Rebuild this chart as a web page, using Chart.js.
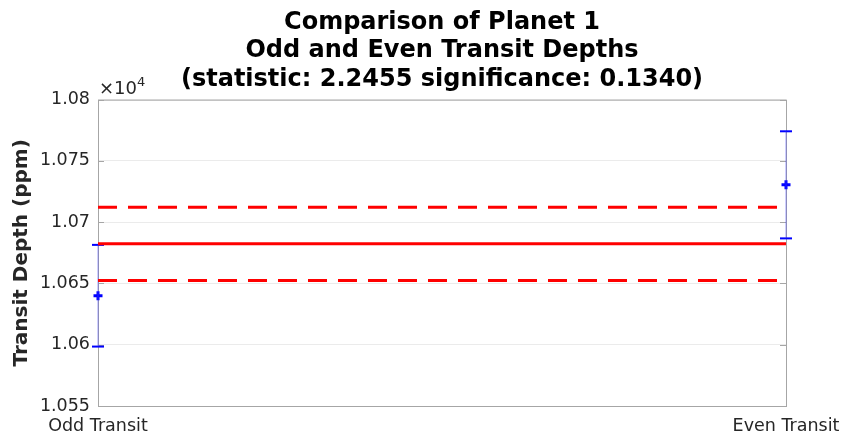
<!DOCTYPE html>
<html>
<head>
<meta charset="utf-8">
<script src="https://cdn.jsdelivr.net/npm/chart.js@4"></script>
<style>
  html, body { margin: 0; padding: 0; background: #fff; }
  #wrap { width: 842px; height: 435px; }
</style>
</head>
<body>
<div id="wrap"><canvas id="depthChart" width="842" height="435"></canvas></div>
<script>
// Odd vs even transit depth comparison

const categories = ['Odd Transit', 'Even Transit'];
const depths = [10640, 10730.5];        // ppm
const depthErrors = [41.5, 43.7];       // 1-sigma, ppm
const meanDepth = 10682.4;              // weighted mean, ppm
const meanError = 29.9;
const yTicks = [10550, 10600, 10650, 10700, 10750, 10800];
const titleLines = ['Comparison of Planet 1', 'Odd and Even Transit Depths', '(statistic: 2.2455 significance: 0.1340)'];

const FONT = "'DejaVu Sans', sans-serif";
const AXIS = '#a6a6a6';
const TEXT = '#262626';

const datasets = [];

// mean and +/- 1 sigma
datasets.push({ type: 'line', data: [{x: 1, y: meanDepth}, {x: 2, y: meanDepth}], borderColor: '#ff0000', borderWidth: 3, pointRadius: 0, clip: false });
[meanDepth + meanError, meanDepth - meanError].forEach(v => {
  datasets.push({ type: 'line', data: [{x: 1, y: v}, {x: 2, y: v}], borderColor: '#ff0000', borderWidth: 3, borderDash: [19, 11], pointRadius: 0, clip: false });
});

// error bars: stem, caps, centre marker
depths.forEach((d, i) => {
  const x = i + 1, lo = d - depthErrors[i], hi = d + depthErrors[i];
  datasets.push({ type: 'line', data: [{x, y: lo}, {x, y: hi}], borderColor: 'rgba(60,60,255,0.5)', borderWidth: 1, pointRadius: 0, clip: false });
  datasets.push({ type: 'scatter', data: [{x, y: lo}, {x, y: hi}], pointStyle: 'line', pointRadius: 6, borderColor: '#0000ff', borderWidth: 2, clip: false });
  datasets.push({ type: 'scatter', data: [{x, y: d}], pointStyle: 'cross', pointRadius: 4.5, borderColor: '#0000ff', borderWidth: 3, clip: false });
});

// box, inward ticks and the exponent label
const frame = {
  id: 'frame',
  beforeDatasetsDraw(chart) {
    const { ctx, chartArea: a, scales: { y } } = chart;
    ctx.save();
    ctx.strokeStyle = AXIS;
    ctx.lineWidth = 1;
    ctx.strokeRect(a.left + 0.5, a.top + 0.5, a.right - a.left, a.bottom - a.top);
    ctx.beginPath();
    yTicks.forEach(t => {
      const py = Math.round(y.getPixelForValue(t)) + 0.5;
      ctx.moveTo(a.left, py); ctx.lineTo(a.left + 6, py);
      ctx.moveTo(a.right, py); ctx.lineTo(a.right - 6, py);
    });
    ctx.stroke();
    ctx.fillStyle = TEXT;
    ctx.textBaseline = 'alphabetic';
    ctx.font = '18px ' + FONT;
    ctx.fillText('\u00d710', a.left + 1, a.top - 6);
    const w = ctx.measureText('\u00d710').width;
    ctx.font = '13px ' + FONT;
    ctx.fillText('4', a.left + 1 + w, a.top - 14);
    ctx.restore();
  }
};

new Chart(document.getElementById('depthChart'), {
  data: { datasets },
  plugins: [frame],
  options: {
    responsive: false,
    animation: false,
    layout: { padding: { left: 10, right: 56, top: 0, bottom: 0 } },
    plugins: {
      legend: { display: false },
      tooltip: { enabled: false },
      title: {
        display: true,
        fullSize: false,
        text: titleLines,
        color: '#000',
        font: { family: FONT, size: 24, weight: 'bold', lineHeight: 1.19 },
        padding: { top: 8, bottom: 6 }
      }
    },
    scales: {
      x: {
        type: 'linear', min: 1, max: 2,
        afterBuildTicks(s) { s.ticks = [{ value: 1 }, { value: 2 }]; },
        afterFit(s) { s.height = 29; },
        grid: { display: false },
        border: { display: false },
        ticks: { color: TEXT, font: { family: FONT, size: 17.5 }, padding: 2, maxRotation: 0, autoSkip: false,
                 callback: v => categories[v - 1] }
      },
      y: {
        min: 10550, max: 10800,
        afterBuildTicks(s) { s.ticks = yTicks.map(value => ({ value })); },
        afterFit(s) { s.width = 88; },
        grid: { color: '#ebebeb', drawTicks: false },
        border: { display: false },
        ticks: { color: TEXT, font: { family: FONT, size: 17.5 }, padding: 8,
                 callback: v => String(+(v / 10000).toFixed(3)) },
        title: { display: true, text: 'Transit Depth (ppm)', color: TEXT, font: { family: FONT, size: 20, weight: 'bold' }, padding: { top: 0, bottom: 0 } }
      }
    }
  }
});
</script>
</body>
</html>
